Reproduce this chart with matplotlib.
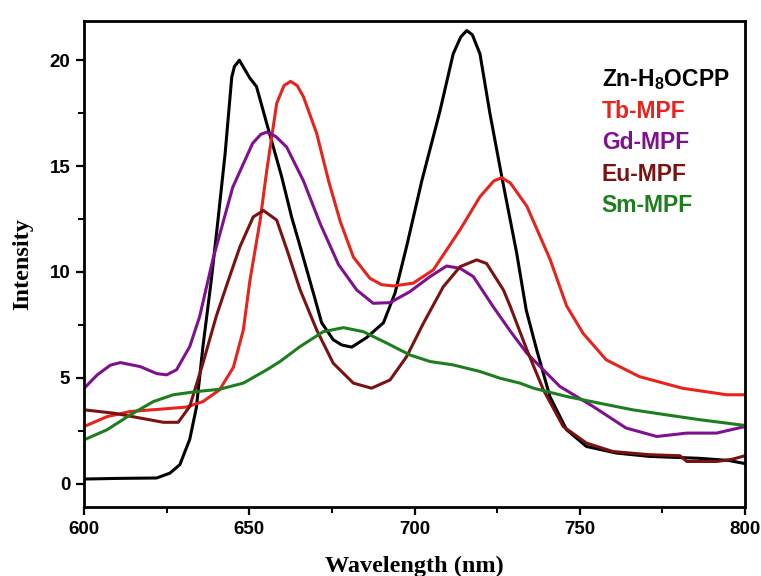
import matplotlib
matplotlib.use("Agg")
import matplotlib.pyplot as plt
from matplotlib.ticker import MultipleLocator

plt.rcParams['mathtext.fontset'] = 'custom'
plt.rcParams['mathtext.rm'] = 'Liberation Sans'
plt.rcParams['mathtext.bf'] = 'Liberation Sans:bold'

# values
zn_x = [600, 610, 622, 626, 629, 632, 634, 636, 638.5, 640.5, 642.7, 644.7, 645.5, 647, 648.5,
        650.2, 652.2, 655.3, 659.8, 662.8, 665.4, 669.4, 671.9, 675.4, 678, 681, 685.5, 690.6,
        694.1, 697.6, 702.2, 707.7, 711.7, 714, 715.8, 717.5, 719.8, 722.8, 726.4, 730.9, 733.8,
        737, 741, 746, 752, 761, 771, 786, 795, 800]
zn_y = [0.22, 0.25, 0.27, 0.5, 0.9, 2.1, 3.6, 6.5, 9.6, 12.4, 15.6, 19.2, 19.7, 20.0, 19.6,
        19.15, 18.75, 17.0, 14.5, 12.6, 11.2, 9.0, 7.6, 6.8, 6.55, 6.45, 6.9, 7.6,
        9.0, 11.2, 14.3, 17.6, 20.3, 21.1, 21.4, 21.2, 20.3, 17.5, 14.5, 10.9, 8.2,
        6.3, 4.1, 2.55, 1.76, 1.45, 1.29, 1.2, 1.1, 0.95]

tb_x = [600, 603, 607, 614, 624, 631, 636, 641, 645.2, 648.2, 650.2, 653.3, 655.3, 658.3, 660.5,
        662.5, 664.5, 666.4, 670.4, 674, 677.5, 681.5, 686.5, 690, 693.6, 699.6, 705.7, 713.8,
        719.8, 724, 726.4, 729, 734, 741, 746, 751, 758, 768, 781, 794.5, 800]
tb_y = [2.7, 2.9, 3.17, 3.41, 3.53, 3.62, 3.88, 4.43, 5.5, 7.26, 9.6, 12.45, 14.8, 17.96, 18.8,
        19.0, 18.8, 18.27, 16.54, 14.3, 12.4, 10.7, 9.7, 9.4, 9.34, 9.47, 10.1, 12.0,
        13.55, 14.3, 14.45, 14.2, 13.1, 10.6, 8.4, 7.1, 5.85, 5.06, 4.51, 4.2, 4.2]

gd_x = [600, 604, 608, 611, 617, 622, 625, 628, 632, 635, 639, 645, 651, 653.5, 655.3, 658,
        661.3, 666.4, 671.4, 677, 682.5, 687.5, 692.6, 698.6, 704.7, 709.7, 713.8, 717.8,
        723.8, 729, 734, 744, 754, 764, 773.3, 782.4, 791.4, 800]
gd_y = [4.5, 5.14, 5.6, 5.72, 5.53, 5.2, 5.14, 5.38, 6.48, 7.9, 10.6, 14.0, 16.07, 16.5, 16.6, 16.4,
        15.9, 14.3, 12.3, 10.35, 9.15, 8.52, 8.55, 9.07, 9.78, 10.28, 10.17, 9.78,
        8.36, 7.2, 6.16, 4.59, 3.65, 2.63, 2.23, 2.39, 2.39, 2.7]

eu_x = [600, 609, 617, 624, 628.5, 632, 636, 640, 643.7, 647.2, 651.2, 654.3, 658.3, 661.5,
        665.4, 670.4, 675.4, 681.5, 687, 692.6, 697.6, 702.7, 708.7, 713.8, 718.8, 721.8,
        726.9, 729, 734, 739, 745, 752, 760, 771, 780.3, 782.4, 791.4, 796, 800]
eu_y = [3.49, 3.33, 3.1, 2.9, 2.9, 3.65, 5.7, 7.9, 9.62, 11.2, 12.6, 12.9, 12.45, 11.0,
        9.15, 7.26, 5.69, 4.75, 4.51, 4.9, 6.0, 7.58, 9.3, 10.25, 10.57, 10.4,
        9.15, 8.36, 6.32, 4.43, 2.7, 1.92, 1.52, 1.37, 1.32, 1.05, 1.05, 1.15, 1.32]

sm_x = [600, 607, 614, 621, 627, 634, 641, 648.2, 655.3, 659.3, 665.4, 672.4, 678.5, 684.5,
        691.6, 698.6, 704.7, 711.7, 719.8, 725.9, 731.9, 736, 746, 756, 766, 776.3, 786.4,
        798.5, 800]
sm_y = [2.07, 2.55, 3.25, 3.88, 4.2, 4.35, 4.46, 4.75, 5.38, 5.77, 6.48, 7.18, 7.37, 7.18,
        6.64, 6.08, 5.77, 5.61, 5.3, 4.98, 4.75, 4.51, 4.12, 3.8, 3.49, 3.25, 3.02,
        2.78, 2.75]

labels = [r'Zn-H$_\mathbf{8}$OCPP', 'Tb-MPF', 'Gd-MPF', 'Eu-MPF', 'Sm-MPF']
colors = ['black', '#e8231d', '#7f1191', '#7a1212', '#1e7d1e']

fig = plt.figure(figsize=(7.61, 5.76), dpi=100)
ax = fig.add_axes([0.1104, 0.1198, 0.8686, 0.8437])

for xs, ys, lab, c in zip([zn_x, tb_x, gd_x, eu_x, sm_x], [zn_y, tb_y, gd_y, eu_y, sm_y], labels, colors):
    ax.plot(xs, ys, color=c, lw=2.2, label=lab)

ax.set_xlim(600, 800)
ax.set_ylim(-1.1, 21.85)
ax.xaxis.set_major_locator(MultipleLocator(50))
ax.xaxis.set_minor_locator(MultipleLocator(25))
ax.yaxis.set_major_locator(MultipleLocator(5))
ax.yaxis.set_minor_locator(MultipleLocator(2.5))
ax.tick_params(which='major', direction='out', length=6, width=1.6, pad=4)
ax.tick_params(which='minor', direction='out', length=4, width=1.4)
for s in ax.spines.values():
    s.set_linewidth(2.0)

tick_font = ['Liberation Sans Narrow', 'Liberation Sans']
for t in ax.get_xticklabels() + ax.get_yticklabels():
    t.set_family(tick_font)
    t.set_fontweight('bold')
    t.set_fontsize(13.5)

ax.set_xlabel('Wavelength (nm)', family='Liberation Serif', fontweight='bold', fontsize=17.5, labelpad=13)
ax.set_ylabel('Intensity', family='Liberation Serif', fontweight='bold', fontsize=17.5, labelpad=12)

leg = ax.legend(loc='upper left', bbox_to_anchor=(0.752, 0.948), frameon=False,
                handlelength=0, handletextpad=0, labelspacing=0.36, labelcolor='linecolor',
                prop={'family': 'Liberation Sans', 'weight': 'bold', 'size': 16.5})
for h in leg.legend_handles:
    h.set_visible(False)

fig.savefig('out.png', dpi=100)
